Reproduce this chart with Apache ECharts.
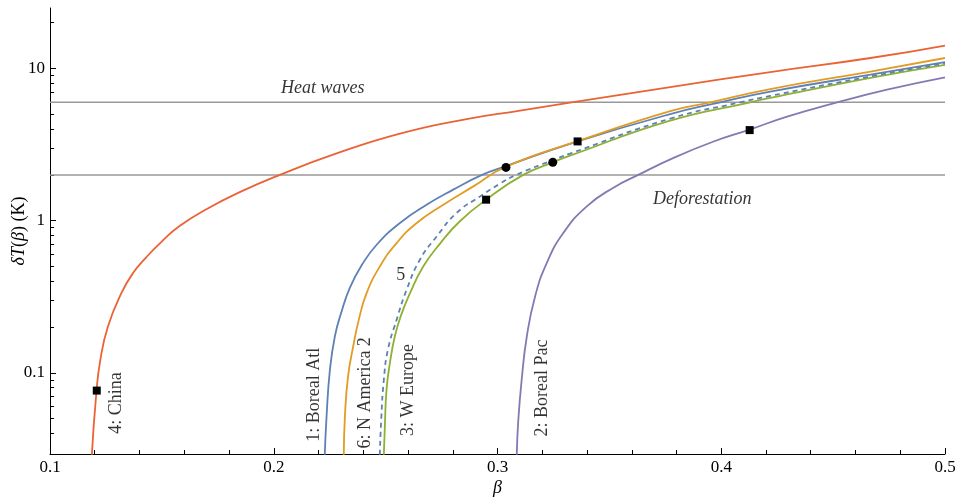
<!DOCTYPE html>
<html>
<head>
<meta charset="utf-8">
<script src="https://cdn.jsdelivr.net/npm/echarts@6/dist/echarts.min.js"></script>
<style>
  html, body { margin: 0; padding: 0; background: #fff; }
  #chart { width: 957px; height: 498px; }
</style>
</head>
<body>
<div id="chart"></div>
<script>
// curves: [beta, deltaT (K)]
var borealAtl = [[0.2228,0.029],[0.2236,0.0516],[0.2251,0.1047],[0.2273,0.1734],[0.2300,0.2445],[0.2340,0.3624],
  [0.2394,0.513],[0.2460,0.695],[0.2564,0.966],[0.2683,1.274],[0.2802,1.600],[0.2931,2.0],[0.3038,2.284],
  [0.3358,3.325],[0.3772,5.02],[0.3996,6.0],[0.4219,7.06],[0.4667,9.13],[0.5,11.04]];
var borealPac = [[0.3086,0.029],[0.3093,0.0491],[0.3108,0.0899],[0.3131,0.1734],[0.3168,0.318],[0.3220,0.527],
  [0.3294,0.830],[0.3399,1.242],[0.3518,1.649],[0.3629,2.0],[0.3787,2.59],[0.3966,3.315],[0.4127,3.97],
  [0.4294,4.83],[0.4518,6.0],[0.4741,7.275],[0.5,8.765]];
var wEurope = [[0.2492,0.029],[0.2497,0.0467],[0.2504,0.0773],[0.2519,0.1159],[0.2541,0.1734],[0.2568,0.237],
  [0.2609,0.334],[0.2668,0.500],[0.2745,0.713],[0.2832,0.992],[0.2949,1.375],[0.3115,2.0],[0.3247,2.419],
  [0.3324,2.677],[0.3772,4.549],[0.4130,6.0],[0.4219,6.408],[0.4667,8.687],[0.5,10.58]];
var china = [[0.1187,0.029],[0.1207,0.0735],[0.1225,0.1218],[0.1259,0.2016],[0.1319,0.334],[0.1371,0.453],
  [0.1430,0.575],[0.1498,0.727],[0.1579,0.923],[0.1699,1.190],[0.1848,1.540],[0.2027,2.0],[0.2265,2.718],
  [0.2564,3.736],[0.2862,4.654],[0.3101,5.293],[0.3324,5.974],[0.3772,7.554],[0.4219,9.48],[0.4667,11.73],
  [0.5,14.17]];
var region5 = [[0.2474,0.029],[0.2481,0.0516],[0.2492,0.0899],[0.2510,0.1417],[0.2549,0.223],[0.2594,0.352],
  [0.2653,0.554],[0.2728,0.788],[0.2817,1.124],[0.2922,1.445],[0.3011,1.751],[0.3083,2.0],[0.3247,2.50],
  [0.3324,2.76],[0.3772,4.69],[0.4085,6.0],[0.4219,6.61],[0.4667,8.88],[0.5,10.82]];
var nAmerica2 = [[0.2313,0.029],[0.2318,0.0516],[0.2332,0.0946],[0.2355,0.149],[0.2380,0.223],[0.2415,0.334],
  [0.2474,0.500],[0.2549,0.713],[0.2639,0.966],[0.2758,1.274],[0.2892,1.681],[0.3038,2.266],
  [0.3358,3.334],[0.3772,5.253],[0.3951,6.0],[0.4219,7.33],[0.4667,9.56],[0.5,11.73]];

var squarePts = [[0.1209,0.0765],[0.2949,1.375],[0.3358,3.32],[0.4127,3.94]];
var circlePts = [[0.3038,2.24],[0.3247,2.42]];

var heatWaves = 6;
var deforestation = 2;

var curveLabels = [
  {name: '4: China', value: [0.1296, 0.0635]},
  {name: '1: Boreal Atl', value: [0.2183, 0.0717]},
  {name: '6: N America 2', value: [0.2407, 0.0739]},
  {name: '3: W Europe', value: [0.2599, 0.0773]},
  {name: '2: Boreal Pac', value: [0.3199, 0.0796]}
];
var flatLabels = [
  {name: '5', value: [0.2568, 0.441], style: 'normal'},
  {name: 'Heat waves', value: [0.2219, 7.45], style: 'italic'},
  {name: 'Deforestation', value: [0.3915, 1.375], style: 'italic'}
];

var xTicks = [0.1, 0.2, 0.3, 0.4, 0.5];
var yMajor = [0.1, 1, 10];
var yMinor = [0.04,0.05,0.06,0.07,0.08,0.09,0.2,0.3,0.4,0.5,0.6,0.7,0.8,0.9,2,3,4,5,6,7,8,9,20];

var FONT = "'Liberation Serif', 'Times New Roman', serif";
var BLUE = '#5E81B5', ORANGE = '#E19C24', GREEN = '#8FB032', RED = '#EB6235', PURPLE = '#8778B3';

function curve(data, color, dash) {
  return {
    type: 'line', data: data, symbol: 'none', smooth: 0.5, z: 3,
    lineStyle: {color: color, width: 1.8, type: dash || 'solid'}
  };
}
function hline(v) {
  return {
    type: 'line', data: [[0.1, v], [0.5, v]], symbol: 'none', z: 2,
    lineStyle: {color: '#999', width: 1.5}
  };
}

var myChart = echarts.init(document.getElementById('chart'));
myChart.setOption({
  animation: false,
  grid: {left: 50, right: 12, top: 8, bottom: 44, containLabel: false, outerBoundsMode: 'none'},
  xAxis: {
    type: 'value', min: 0.1, max: 0.5, interval: 0.1,
    name: 'β', nameLocation: 'middle', nameGap: 25, nameMoveOverlap: false,
    nameTextStyle: {fontFamily: FONT, fontStyle: 'italic', fontSize: 18, color: '#000'},
    axisLine: {lineStyle: {color: '#000', width: 1}},
    axisTick: {inside: true, length: 6, lineStyle: {color: '#000'}},
    minorTick: {show: true, splitNumber: 5, length: 4, lineStyle: {color: '#000'}},
    axisLabel: {fontFamily: FONT, fontSize: 17, color: '#000', margin: 5,
      customValues: xTicks, formatter: function (v) { return String(v); }},
    splitLine: {show: false}
  },
  yAxis: [{
    type: 'log', min: 0.0293, max: 25, position: 'left',
    name: '{i|δT}({i|β}) (K)', nameLocation: 'middle', nameGap: 22, nameMoveOverlap: false,
    nameTextStyle: {fontFamily: FONT, fontSize: 18, color: '#000',
      rich: {i: {fontFamily: FONT, fontSize: 18, fontStyle: 'italic', color: '#000'}}},
    axisLine: {show: true, lineStyle: {color: '#000', width: 1}},
    axisTick: {inside: true, length: 6, customValues: yMajor, lineStyle: {color: '#000'}},
    axisLabel: {fontFamily: FONT, fontSize: 17, color: '#000', margin: 5, customValues: yMajor,
      formatter: function (v) { return String(v); }},
    splitLine: {show: false}
  }, {
    type: 'log', min: 0.0293, max: 25, position: 'left', offset: 0,
    axisLine: {show: false},
    axisTick: {show: true, inside: true, length: 4, customValues: yMinor, lineStyle: {color: '#000'}},
    axisLabel: {show: false},
    splitLine: {show: false}
  }],
  series: [
    hline(heatWaves),
    hline(deforestation),
    curve(borealAtl, BLUE),
    curve(borealPac, PURPLE),
    curve(wEurope, GREEN),
    curve(china, RED),
    curve(region5, BLUE, [5, 4]),
    curve(nAmerica2, ORANGE),
    {type: 'scatter', data: squarePts, symbol: 'rect', symbolSize: 8, itemStyle: {color: '#000', opacity: 1}, z: 5},
    {type: 'scatter', data: circlePts, symbol: 'circle', symbolSize: 9, itemStyle: {color: '#000', opacity: 1}, z: 5},
    {type: 'scatter', data: curveLabels, symbolSize: 0, z: 6, silent: true,
      label: {show: true, position: 'inside', rotate: 90, formatter: '{b}',
        fontFamily: FONT, fontSize: 18, color: '#000'}},
    {type: 'scatter', data: flatLabels.map(function (d) {
        return {name: d.name, value: d.value,
          label: {fontStyle: d.style}};
      }), symbolSize: 0, z: 6, silent: true,
      label: {show: true, position: 'inside', formatter: '{b}',
        fontFamily: FONT, fontSize: 18, color: '#000'}}
  ]
});
</script>
</body>
</html>
